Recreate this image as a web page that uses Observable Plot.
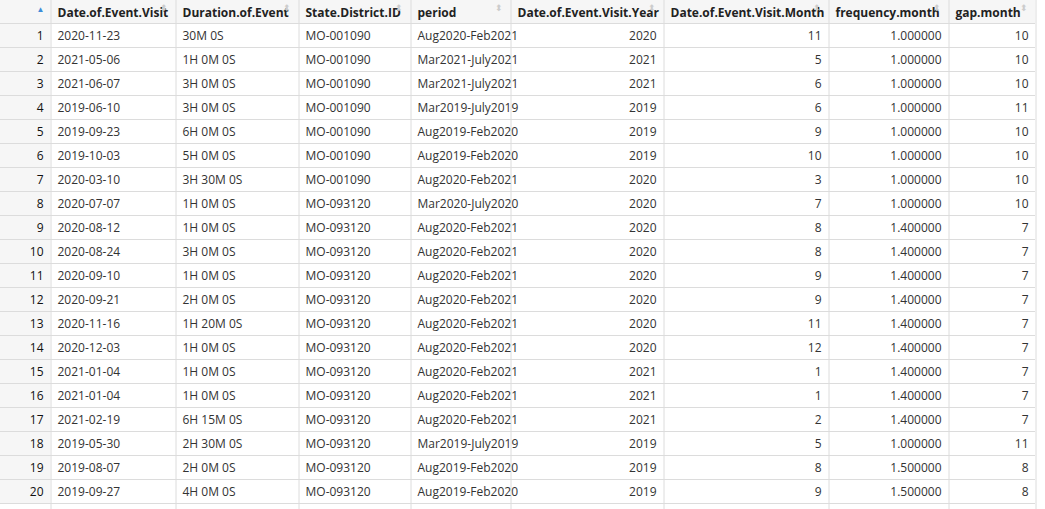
<!DOCTYPE html>
<html>
<head>
<meta charset="UTF-8" />
<style>body{margin:0;background:#fff;}</style>
<script src="https://cdn.jsdelivr.net/npm/d3@7"></script>
<script src="https://cdn.jsdelivr.net/npm/@observablehq/plot@0.6"></script>
</head>
<body>
<div id="chart"></div>
<script>
const headers = ["", "Date.of.Event.Visit", "Duration.of.Event", "State.District.ID", "period",
  "Date.of.Event.Visit.Year", "Date.of.Event.Visit.Month", "frequency.month", "gap.month"];
const dates = ["2020-11-23","2021-05-06","2021-06-07","2019-06-10","2019-09-23","2019-10-03","2020-03-10","2020-07-07","2020-08-12","2020-08-24","2020-09-10","2020-09-21","2020-11-16","2020-12-03","2021-01-04","2021-01-04","2021-02-19","2019-05-30","2019-08-07","2019-09-27"];
const durations = ["30M 0S","1H 0M 0S","3H 0M 0S","3H 0M 0S","6H 0M 0S","5H 0M 0S","3H 30M 0S","1H 0M 0S","1H 0M 0S","3H 0M 0S","1H 0M 0S","2H 0M 0S","1H 20M 0S","1H 0M 0S","1H 0M 0S","1H 0M 0S","6H 15M 0S","2H 30M 0S","2H 0M 0S","4H 0M 0S"];
const districts = ["MO-001090","MO-001090","MO-001090","MO-001090","MO-001090","MO-001090","MO-001090","MO-093120","MO-093120","MO-093120","MO-093120","MO-093120","MO-093120","MO-093120","MO-093120","MO-093120","MO-093120","MO-093120","MO-093120","MO-093120"];
const periods = ["Aug2020-Feb2021","Mar2021-July2021","Mar2021-July2021","Mar2019-July2019","Aug2019-Feb2020","Aug2019-Feb2020","Aug2020-Feb2021","Mar2020-July2020","Aug2020-Feb2021","Aug2020-Feb2021","Aug2020-Feb2021","Aug2020-Feb2021","Aug2020-Feb2021","Aug2020-Feb2021","Aug2020-Feb2021","Aug2020-Feb2021","Aug2020-Feb2021","Mar2019-July2019","Aug2019-Feb2020","Aug2019-Feb2020"];
const years = [2020,2021,2021,2019,2019,2019,2020,2020,2020,2020,2020,2020,2020,2020,2021,2021,2021,2019,2019,2019];
const months = [11,5,6,6,9,10,3,7,8,8,9,9,11,12,1,1,2,5,8,9];
const freqs = [1,1,1,1,1,1,1,1,1.4,1.4,1.4,1.4,1.4,1.4,1.4,1.4,1.4,1,1.5,1.5];
const gaps = [10,10,10,11,10,10,10,10,7,7,7,7,7,7,7,7,7,11,8,8];

// layout
const W = 1045, H = 509, headH = 23, rowH = 24;
const colW = [50, 125, 123, 112, 100, 153, 165, 120, 87];
const edges = [0]; colW.forEach(w => edges.push(edges[edges.length - 1] + w));
const rightAlign = [true, false, false, false, false, true, true, true, true];

const cells = [];
dates.forEach((d, i) => {
  const vals = [i + 1, d, durations[i], districts[i], periods[i], years[i], months[i], freqs[i].toFixed(6), gaps[i]];
  vals.forEach((v, c) => cells.push({row: i, col: c, text: String(v)}));
});
const head = headers.map((h, c) => ({col: c, text: h}));
const rowIdx = d3.range(dates.length);
const rowY = r => headH + r * rowH;
const cellY = d => rowY(d.row) + rowH / 2 + 1;

const plot = Plot.plot({
  width: W, height: H, margin: 0,
  x: {type: "identity"}, y: {type: "identity"},
  style: {fontFamily: "'Open Sans', 'Noto Sans', sans-serif", fontSize: "12px", color: "#222"},
  marks: [
    Plot.rect([0], {x1: 0, x2: edges[9], y1: 0, y2: headH, fill: "#f6f6f6"}),
    Plot.rect(rowIdx, {x1: 0, x2: edges[1], y1: r => rowY(r), y2: r => rowY(r) + rowH, fill: "#f6f6f6"}),
    Plot.ruleY([0].concat(rowIdx.map(r => rowY(r) + rowH)), {y: d => d === 0 ? headH : d, x1: 0, x2: edges[9], stroke: "#dcdcdc"}),
    Plot.ruleX(edges.slice(1), {x: d => d + 0.5, y1: 0, y2: H, stroke: "#dcdcdc"}),
    Plot.text(head, {x: d => edges[d.col] + 7, y: headH / 2 + 1, text: "text", textAnchor: "start", fontWeight: "bold", fill: "#222"}),
    Plot.text(cells.filter(d => !rightAlign[d.col]), {x: d => edges[d.col] + 7, y: cellY, text: "text", textAnchor: "start", fill: "#333"}),
    Plot.text(cells.filter(d => rightAlign[d.col]), {x: d => edges[d.col + 1] - 7, y: cellY, text: "text", textAnchor: "end",
      fontWeight: d => d.col === 0 ? "bold" : "normal", fill: d => d.col === 0 ? "#111" : "#333"}),
    Plot.text(["▲"], {x: 40, y: 9, text: d => d, fill: "#3c8dd9", fontSize: 8}),
    Plot.text([1, 2, 3, 4, 5, 6, 7, 8], {x: c => edges[c + 1] - 12, y: 8, text: () => "⬍", fill: "#ccc", fontSize: 9})
  ]
});
document.querySelector("#chart").append(plot);
</script>
</body>
</html>
